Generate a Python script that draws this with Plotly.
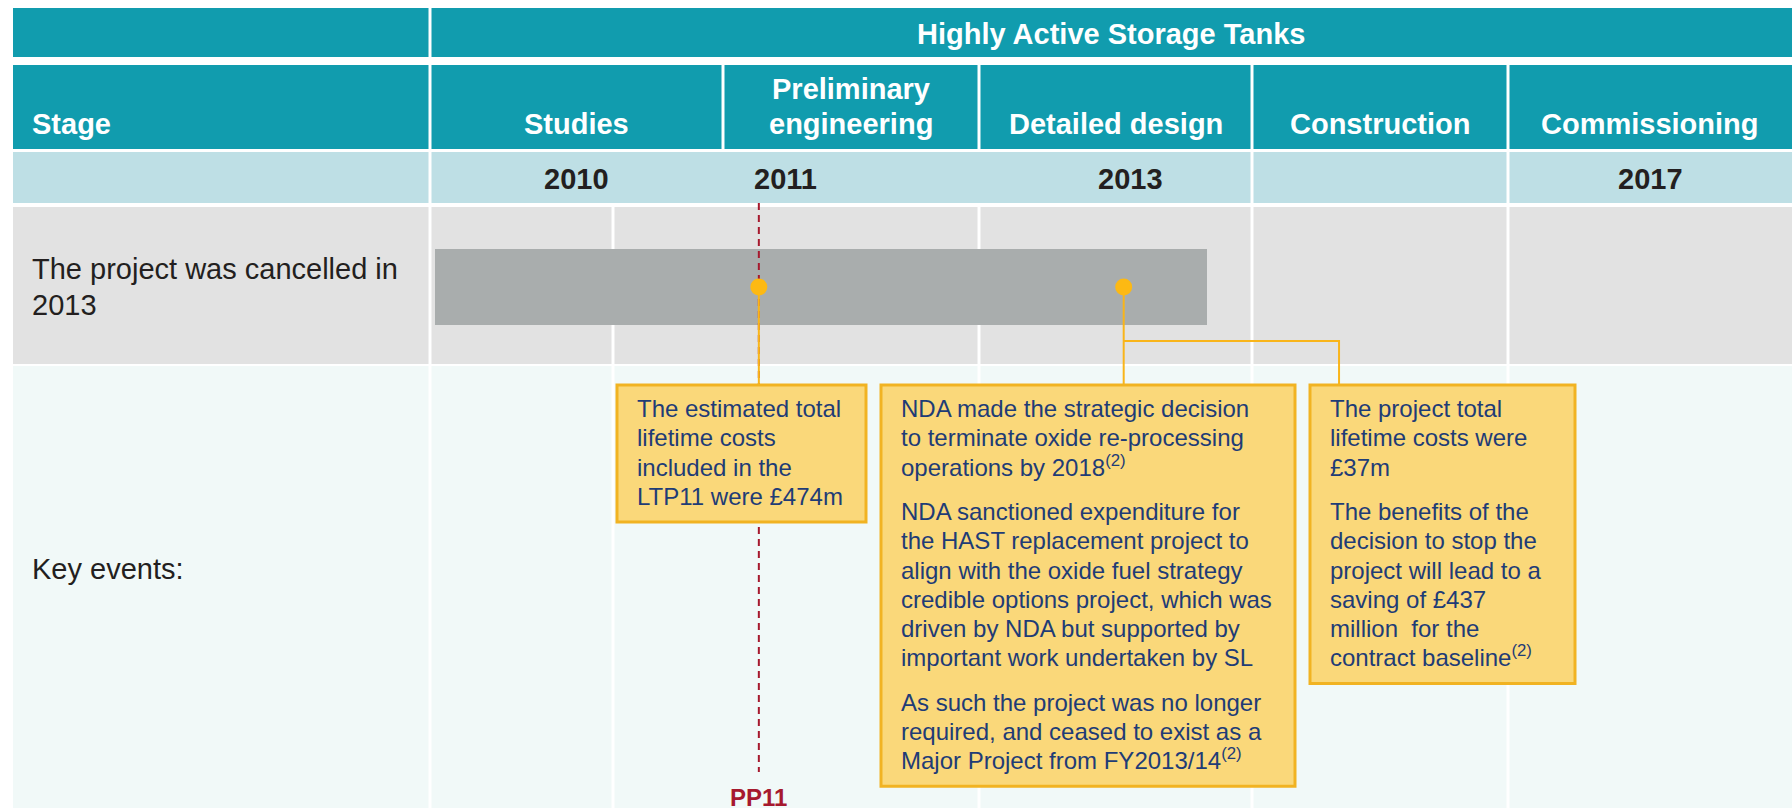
import math
import plotly.graph_objects as go

# ---------------- data ----------------
title = "Highly Active Storage Tanks"
stage_header = "Stage"
stages = [["Studies"], ["Preliminary", "engineering"], ["Detailed design"], ["Construction"], ["Commissioning"]]
years = ["2010", "2011", "2013", "2017"]
year_stage_pos = [0.5, 1.246, 2.556, 4.5]          # position along the stage sequence
row_labels = [["The project was cancelled in", "2013"], ["Key events:"]]
project_start = 0.017                               # in stage units
project_end = 2.836
event_pos = [1.14, 2.53]                            # PP11 review, 2013 decision
milestone_label = "PP11"
milestone_pos = 1.14
branch_pos = 3.34                                   # second call-out from the 2013 decision
event_boxes = [
    [["The estimated total", "lifetime costs", "included in the", "LTP11 were £474m"]],
    [["NDA made the strategic decision", "to terminate oxide re-processing", "operations by 2018<sup>(2)</sup>"],
     ["NDA sanctioned expenditure for", "the HAST replacement project to", "align with the oxide fuel strategy",
      "credible options project, which was", "driven by NDA but supported by", "important work undertaken by SL"],
     ["As such the project was no longer", "required, and ceased to exist as a",
      "Major Project from FY2013/14<sup>(2)</sup>"]],
    [["The project total", "lifetime costs were", "£37m"],
     ["The benefits of the", "decision to stop the", "project will lead to a", "saving of £437",
      "million\u00a0 for the", "contract baseline<sup>(2)</sup>"]],
]

# ---------------- layout constants ----------------
W, H = 1792, 808
LEFT = 13
stage_edges = [430, 723, 979, 1252, 1508, 1792]
rows = {
    "title": (8, 57, [LEFT, 430, W]),
    "stage": (65, 149, [LEFT] + stage_edges),
    "year": (152, 203, [LEFT, 430, 1252, 1508, W]),
    "bar": (207, 364, [LEFT, 430, 613, 979, 1252, 1508, W]),
    "events": (366, H + 2, [LEFT, 430, 613, 979, 1252, 1508, W]),
}
TEAL = "#119CAE"
row_colors = {"title": TEAL, "stage": TEAL, "year": "#BEDFE5", "bar": "#E2E2E2", "events": "#F1F9F8"}
FONT = "Liberation Sans, Arial, Helvetica, sans-serif"
NAVY = "#1F3C76"
DARK = "#231F20"
ORANGE = "#F9B51A"
RED = "#A6192E"
BOX_FILL = "#FAD87A"
BOX_LINE = "#F1B322"
box_x = [(617, 866), (881, 1295), (1310, 1575)]
box_top = 385
first_base, line_step, para_gap = 418, 29.3, 15
bar_y, bar_h = 287, 76


def sx(u):
    i = min(int(math.floor(u)), len(stage_edges) - 2)
    f = u - i
    return stage_edges[i] + f * (stage_edges[i + 1] - stage_edges[i])


fig = go.Figure()
shapes = []
ann = []

# table cells
for key, (y0, y1, edges) in rows.items():
    for a, b in zip(edges[:-1], edges[1:]):
        x0 = a if a == LEFT else a + 1.5
        x1 = b if b == W else b - 1.5
        shapes.append(dict(type="rect", xref="x", yref="y", x0=x0, x1=x1, y0=y0, y1=y1,
                           fillcolor=row_colors[key], line=dict(width=0), layer="below"))

# project bar
fig.add_trace(go.Bar(orientation="h", y=[bar_y], base=[sx(project_start)],
                     x=[sx(project_end) - sx(project_start)], width=[bar_h],
                     marker=dict(color="#A9ADAD", line=dict(width=0)), hoverinfo="skip"))

# milestone dashed line
mx = sx(milestone_pos)
fig.add_trace(go.Scatter(x=[mx, mx], y=[203, 772], mode="lines",
                         line=dict(color=RED, width=2, dash="7px,5px"), hoverinfo="skip"))

# connectors
e1, e2 = sx(event_pos[0]), sx(event_pos[1])
bx = sx(branch_pos)
for xs, ys in [([e1, e1], [bar_y, box_top]), ([e2, e2], [bar_y, box_top]),
               ([e2, bx, bx], [341, 341, box_top])]:
    fig.add_trace(go.Scatter(x=xs, y=ys, mode="lines", line=dict(color=ORANGE, width=2),
                             hoverinfo="skip"))

# event dots
fig.add_trace(go.Scatter(x=[sx(p) for p in event_pos], y=[bar_y] * len(event_pos), mode="markers",
                         marker=dict(size=17, color="#FDB913", line=dict(width=0)), hoverinfo="skip"))

# event boxes and their text
for (x0, x1), paras in zip(box_x, event_boxes):
    base = first_base
    last = base
    for pi, para in enumerate(paras):
        if pi > 0:
            base += para_gap
        for line in para:
            ann.append(dict(x=x0 + 18, y=base + 0.212 * 24 + 1, xref="x", yref="y", text=line,
                            showarrow=False, xanchor="left", yanchor="bottom",
                            font=dict(family=FONT, size=24, color=NAVY)))
            last = base
            base += line_step
    shapes.append(dict(type="rect", xref="x", yref="y", x0=x0, x1=x1, y0=box_top, y1=last + 16,
                       fillcolor=BOX_FILL, line=dict(color=BOX_LINE, width=3), layer="above"))

# header texts
ann.append(dict(x=(430 + W) / 2, y=34, text="<b>%s</b>" % title, showarrow=False,
                xanchor="center", yanchor="middle", font=dict(family=FONT, size=29, color="white")))
hb = 134.5 + 0.212 * 29 + 1
ann.append(dict(x=30, y=hb, text="<b>%s</b>" % stage_header, showarrow=False,
                xanchor="left", yanchor="bottom", font=dict(family=FONT, size=29, color="white")))
for i, lines in enumerate(stages):
    cx = (stage_edges[i] + stage_edges[i + 1]) / 2
    for j, line in enumerate(reversed(lines)):
        ann.append(dict(x=cx, y=hb - 35 * j, text="<b>%s</b>" % line, showarrow=False,
                        xanchor="center", yanchor="bottom",
                        font=dict(family=FONT, size=29, color="white")))
for yl, p in zip(years, year_stage_pos):
    ann.append(dict(x=sx(p), y=179, text="<b>%s</b>" % yl, showarrow=False,
                    xanchor="center", yanchor="middle", font=dict(family=FONT, size=29, color=DARK)))

# row labels
for lines, yc in zip(row_labels, [268.5, 569]):
    for j, line in enumerate(lines):
        ann.append(dict(x=30, y=yc + 36.5 * j, text=line, showarrow=False, xanchor="left",
                        yanchor="middle", font=dict(family=FONT, size=29, color=DARK)))

# milestone label
ann.append(dict(x=mx, y=797, text="<b>%s</b>" % milestone_label, showarrow=False,
                xanchor="center", yanchor="middle", font=dict(family=FONT, size=24, color=RED)))

fig.update_layout(
    width=W, height=H, margin=dict(l=0, r=0, t=0, b=0, pad=0),
    paper_bgcolor="white", plot_bgcolor="white", showlegend=False,
    xaxis=dict(range=[0, W], visible=False, fixedrange=True),
    yaxis=dict(range=[H, 0], visible=False, fixedrange=True),
    shapes=shapes, annotations=ann, bargap=0,
)

fig.write_html("out.html", config={"displayModeBar": False},
               post_script="document.body.style.margin='0px';document.body.style.overflow='hidden';")
